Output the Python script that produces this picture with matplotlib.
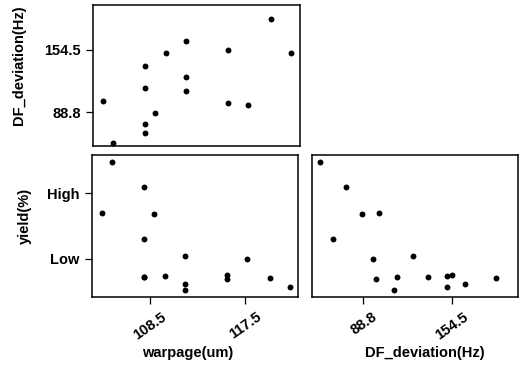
import matplotlib.pyplot as plt
from matplotlib.transforms import ScaledTranslation

# values (16 samples)
warpage = [103.9, 104.9, 107.9, 107.9, 107.9, 107.9, 108.9, 109.9,
           111.8, 111.8, 111.8, 115.8, 115.8, 117.7, 119.8, 121.7]
df_deviation = [100.8, 56.5, 137.3, 113.8, 76.2, 66.5, 87.6, 150.8,
                164.4, 125.8, 111.3, 154.5, 98.3, 96.3, 187.4, 151.3]
# yield on a relative scale: Low = 0, High = 1
yield_pct = [0.70, 1.48, -0.27, -0.27, 1.09, 0.30, 0.69, -0.26,
             -0.38, 0.05, -0.47, -0.25, -0.30, 0.00, -0.29, -0.43]

warp_ticks = [108.5, 117.5]
df_ticks = [88.8, 154.5]
yield_ticks = [0.0, 1.0]
yield_labels = ["Low", "High"]

plt.rcParams["font.family"] = ["Liberation Sans", "DejaVu Sans"]
plt.rcParams["font.size"] = 10.5
plt.rcParams["font.weight"] = "bold"
plt.rcParams["axes.labelweight"] = "bold"
plt.rcParams["axes.labelsize"] = 10.5

fig = plt.figure(figsize=(5.23, 3.70), dpi=100)
ax_tl = fig.add_axes([0.178, 0.605, 0.396, 0.382])
ax_bl = fig.add_axes([0.176, 0.197, 0.394, 0.384])
ax_br = fig.add_axes([0.597, 0.197, 0.393, 0.384])

dot = dict(s=18, color="black", linewidths=0)

ax_tl.scatter(warpage, df_deviation, **dot)
ax_tl.set_xlim(103.0, 122.6)
ax_tl.set_ylim(52.8, 202.2)
ax_tl.set_xticks([])
ax_tl.set_yticks(df_ticks)
ax_tl.set_yticklabels([f"{v}" for v in df_ticks])
ax_tl.set_ylabel("DF_deviation(Hz)")
ax_tl.yaxis.set_label_coords(-0.325, 0.574)

ax_bl.scatter(warpage, yield_pct, **dot)
ax_bl.set_xlim(103.0, 122.5)
ax_bl.set_ylim(-0.58, 1.58)
ax_bl.set_xticks(warp_ticks)
ax_bl.set_xticklabels([f"{v}" for v in warp_ticks], rotation=35)
ax_bl.set_yticks(yield_ticks)
ax_bl.set_yticklabels(yield_labels)
ax_bl.set_ylabel("yield(%)")
ax_bl.yaxis.set_label_coords(-0.29, 0.57)
ax_bl.set_xlabel("warpage(um)")
ax_bl.xaxis.set_label_coords(0.465, -0.345)

ax_br.scatter(df_deviation, yield_pct, **dot)
ax_br.set_xlim(50.7, 203.8)
ax_br.set_ylim(-0.58, 1.58)
ax_br.set_xticks(df_ticks)
ax_br.set_xticklabels([f"{v}" for v in df_ticks], rotation=35)
ax_br.set_yticks([])
ax_br.set_xlabel("DF_deviation(Hz)")
ax_br.xaxis.set_label_coords(0.55, -0.345)

# rotated tick labels sit a little right of their ticks in the reference
shift = ScaledTranslation(0.045, 0, fig.dpi_scale_trans)
for ax in (ax_bl, ax_br):
    for lbl in ax.get_xticklabels():
        lbl.set_transform(lbl.get_transform() + shift)

for ax in (ax_tl, ax_bl, ax_br):
    for spine in ax.spines.values():
        spine.set_linewidth(1.1)
    ax.tick_params(direction="out", length=5, width=0.9, pad=4)

fig.savefig("out.png", dpi=100)
